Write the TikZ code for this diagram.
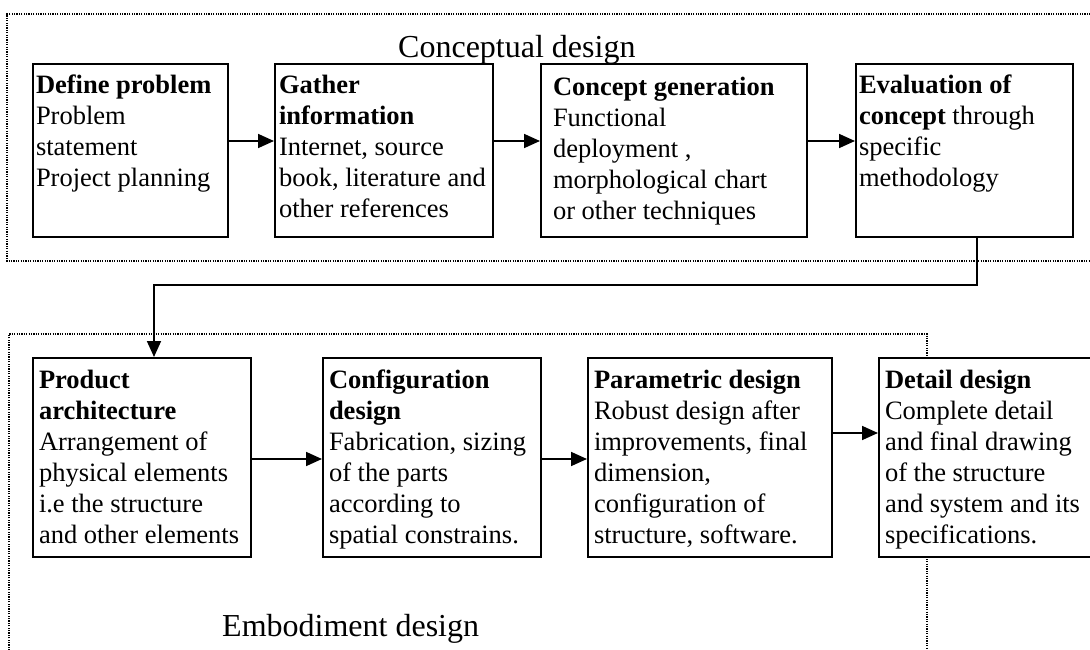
\documentclass[tikz,border=0pt]{standalone}
\usepackage{fontspec}
\setmainfont{Liberation Serif}
\usetikzlibrary{arrows.meta}
\newcommand{\bxt}[5][30pt]{\parbox[t][#3][t]{#2}{\raggedright\leftskip=#4\relax\rule{0pt}{#1}#5}}
\tikzset{
  bx/.style={draw, line width=2pt, fill=white, inner sep=0pt, anchor=north west,
             font=\fontsize{26.5pt}{31pt}\selectfont},
  arr/.style={line width=1.7pt, -{Triangle[length=16pt,width=14pt]}},
  frame/.style={line width=1.1pt, dash pattern=on 1.2pt off 1.2pt},
  head/.style={font=\fontsize{32pt}{38pt}\selectfont, inner sep=0pt, anchor=base west}
}
\begin{document}
\begin{tikzpicture}[x=1pt,y=-1pt]
\useasboundingbox (0,0) rectangle (1090,650);
\clip (0,0) rectangle (1090,650);
\fill[white] (0,0) rectangle (1090,650);
% frames
\draw[frame] (1100,14) -- (7,14) -- (7,261) -- (1100,261);
\draw[frame] (9,660) -- (9,334) -- (927,334) -- (927,660);
% headings
\node[head] (hc) at (398,58) {Conceptual design};
\node[head] (he) at (222,636) {Embodiment design};
% top row
\node[bx] (def) at (32,63) {\bxt{195pt}{173pt}{3pt}{\textbf{Define problem}\\Problem\\statement\\Project planning}};
\node[bx] (gat) at (274,63) {\bxt{218pt}{173pt}{4pt}{\textbf{Gather}\\\textbf{information}\\Internet, source\\book, literature and\\other references}};
\node[bx] (con) at (540,63) {\bxt[32pt]{266pt}{173pt}{12pt}{\textbf{Concept generation}\\Functional\\deployment ,\\morphological chart\\or other techniques}};
\node[bx] (eva) at (855,63) {\bxt{217pt}{173pt}{3pt}{\textbf{Evaluation of}\\\textbf{concept} through\\specific\\methodology}};
% bottom row
\node[bx] (pro) at (32,357) {\bxt{218pt}{199pt}{6pt}{\textbf{Product}\\\textbf{architecture}\\Arrangement of\\physical elements\\i.e the structure\\and other elements}};
\node[bx] (cfg) at (322,357) {\bxt{218pt}{199pt}{6pt}{\textbf{Configuration}\\\textbf{design}\\Fabrication, sizing\\of the parts\\according to\\spatial constrains.}};
\node[bx] (par) at (587,357) {\bxt{244pt}{199pt}{6pt}{\textbf{Parametric design}\\Robust design after\\improvements, final\\dimension,\\configuration of\\structure, software.}};
\node[bx] (det) at (878,357) {\bxt{222pt}{199pt}{6pt}{\textbf{Detail design}\\Complete detail\\and final drawing\\of the structure\\and system and its\\specifications.}};
% connectors
\draw[arr] ([yshift=9.5pt]def.east) -- ([yshift=9.5pt]gat.west);
\draw[arr] ([yshift=9.5pt]gat.east) -- ([yshift=9.5pt]con.west);
\draw[arr] ([yshift=9.5pt]con.east) -- ([yshift=9.5pt]eva.west);
\coordinate (mid) at (0,285);
\draw[arr] ([xshift=12.5pt]eva.south) -- ([xshift=12.5pt]eva.south |- mid) -| ([xshift=12pt]pro.north);
\draw[arr] ([yshift=-1.5pt]pro.east) -- ([yshift=-1.5pt]cfg.west);
\draw[arr] ([yshift=-1.5pt]cfg.east) -- ([yshift=-1.5pt]par.west);
\draw[arr] ([yshift=24.5pt]par.east) -- ([yshift=24.5pt]det.west);
\end{tikzpicture}
\end{document}
